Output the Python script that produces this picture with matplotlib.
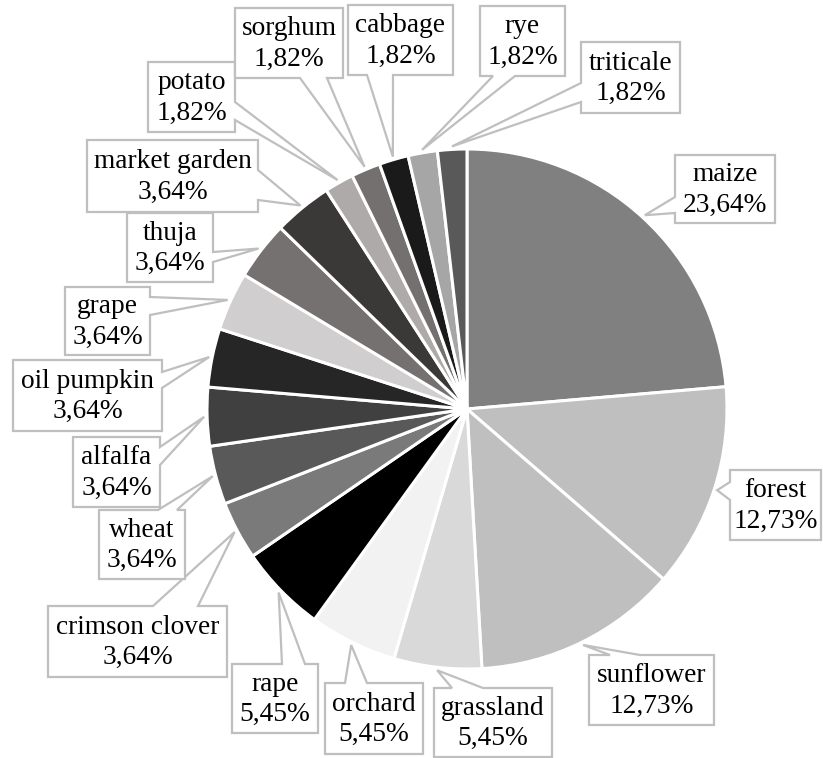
import numpy as np
import matplotlib
matplotlib.use("Agg")
import matplotlib.pyplot as plt
from matplotlib.patches import Polygon

W, H = 823, 758

crops = ["maize", "forest", "sunflower", "grassland", "orchard", "rape",
         "crimson clover", "wheat", "alfalfa", "oil pumpkin", "grape", "thuja",
         "market garden", "potato", "sorghum", "cabbage", "rye", "triticale"]
shares = [23.64, 12.73, 12.73, 5.45, 5.45, 5.45,
          3.64, 3.64, 3.64, 3.64, 3.64, 3.64,
          3.64, 1.82, 1.82, 1.82, 1.82, 1.82]
colors = ["#808080", "#bfbfbf", "#bfbfbf", "#d9d9d9", "#f2f2f2", "#000000",
          "#7a7a7a", "#595959", "#404040", "#262626", "#d0cece", "#767171",
          "#3b3838", "#aeaaaa", "#757070", "#1a1a1a", "#a6a6a6", "#595959"]

# callout boxes in pixel units from the top-left: (x0, y0, x1, y1),
# side that carries the pointer, and the pointer base span on that side
callouts = {
    "maize":          ((675, 155, 775, 223), "left",   (197, 213)),
    "forest":         ((730, 470, 821, 540), "left",   (482, 500)),
    "sunflower":      ((589, 655, 714, 725), "top",    (610, 640)),
    "grassland":      ((434, 688, 552, 757), "top",    (452, 483)),
    "orchard":        ((325, 683, 423, 754), "top",    (345, 367)),
    "rape":           ((232, 664, 318, 733), "top",    (282, 305)),
    "crimson clover": ((48, 606, 227, 677),  "top",    (153, 198)),
    "wheat":          ((99, 510, 185, 579),  "top",    (158, 177)),
    "alfalfa":        ((73, 437, 160, 507),  "right",  (447, 465)),
    "oil pumpkin":    ((13, 360, 162, 431),  "right",  (372, 388)),
    "grape":          ((65, 287, 150, 355),  "right",  (297, 315)),
    "thuja":          ((127, 213, 213, 282), "right",  (252, 262)),
    "market garden":  ((87, 140, 258, 212),  "right",  (170, 200)),
    "potato":         ((148, 62, 235, 132),  "right",  (102, 120)),
    "sorghum":        ((235, 8, 343, 78),    "bottom", (300, 327)),
    "cabbage":        ((348, 5, 453, 75),    "bottom", (367, 393)),
    "rye":            ((480, 6, 565, 76),    "bottom", (493, 515)),
    "triticale":      ((581, 42, 680, 113),  "left",   (83, 102)),
}

plt.rcParams["font.family"] = ["Liberation Serif", "DejaVu Serif"]

fig = plt.figure(figsize=(W / 100, H / 100), dpi=100)
ax = fig.add_axes([0, 0, 1, 1])
ax.set_xlim(0, W)
ax.set_ylim(0, H)
ax.set_aspect("equal")
ax.axis("off")

cx, cy, R = 467, 409, 260
wedges, _ = ax.pie(shares, colors=colors, startangle=90, counterclock=False,
                   center=(cx, H - cy), radius=R, normalize=True,
                   wedgeprops=dict(edgecolor="white", linewidth=2.2))
ax.set_xlim(0, W)
ax.set_ylim(0, H)


def fy(y):
    return H - y


for name, val, wedge in zip(crops, shares, wedges):
    (x0, y0, x1, y1), side, (b1, b2) = callouts[name]
    mid = np.deg2rad((wedge.theta1 + wedge.theta2) / 2)
    tr = R + 3
    tx = cx + tr * np.cos(mid)
    ty = cy - tr * np.sin(mid)
    tip = (tx, ty)
    if side == "top":
        pts = [(x0, y0), (b1, y0), tip, (b2, y0), (x1, y0), (x1, y1), (x0, y1)]
    elif side == "bottom":
        pts = [(x0, y0), (x1, y0), (x1, y1), (b2, y1), tip, (b1, y1), (x0, y1)]
    elif side == "right":
        pts = [(x0, y0), (x1, y0), (x1, b1), tip, (x1, b2), (x1, y1), (x0, y1)]
    else:
        pts = [(x0, y0), (x1, y0), (x1, y1), (x0, y1), (x0, b2), tip, (x0, b1)]
    poly = Polygon([(px, fy(py)) for px, py in pts], closed=True,
                   facecolor="white", edgecolor="#bfbfbf", linewidth=1.6,
                   joinstyle="miter", zorder=5)
    ax.add_patch(poly)
    label = f"{name}\n{val:.2f}".replace(".", ",") + "%"
    ax.text((x0 + x1) / 2, fy((y0 + y1) / 2) - 1, label, ha="center",
            va="center", fontsize=19.7, linespacing=1.27, color="#000000",
            zorder=6)

fig.savefig("out.png", dpi=100)
